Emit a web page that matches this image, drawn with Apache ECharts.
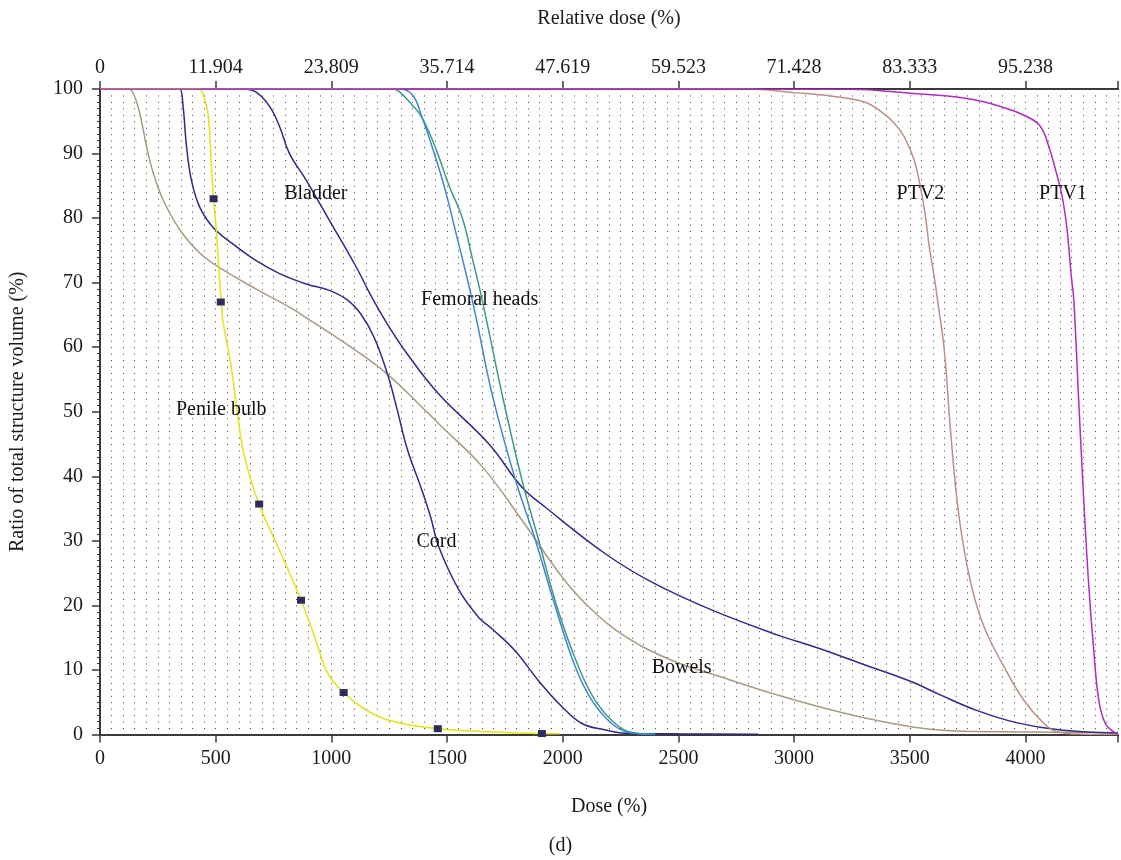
<!DOCTYPE html>
<html>
<head>
<meta charset="utf-8">
<script src="https://cdn.jsdelivr.net/npm/echarts@6/dist/echarts.min.js"></script>
<style>
  html, body { margin: 0; background: #fff; }
  #chart { width: 1121px; height: 860px; }
</style>
</head>
<body>
<div id="chart"></div>
<script>
// dose-volume curves, [dose, volume %]
const bowels = [[0,100],[100,100],[122,100],[144,99.3],[172,96.2],[201,91.1],[230,87],[273,82.8],[345,78.2],[431,74.6],[531,72],[675,69],[819,66.2],[869,65.1],[1085,60],[1243,55.8],[1415,49.9],[1465,48.1],[1652,41.5],[1824,33.2],[1997,24.4],[2112,19.8],[2270,15.2],[2471,11.5],[2686,8.9],[2930,6.1],[3218,3.3],[3505,1.2],[3677,0.6],[4000,0.4],[4400,0.3]]
const bladder = [[0,100],[580,100],[618,100],[675,99.5],[733,97.3],[776,94.2],[819,90],[891,85.9],[991,79.7],[1106,72.5],[1171,68],[1235,64],[1329,58.9],[1465,52.7],[1681,45],[1824,38.3],[1925,35.2],[2184,28],[2385,23.6],[2643,19.3],[2930,15.4],[3103,13.4],[3304,10.8],[3505,8.2],[3634,6.1],[3792,3.7],[3965,1.8],[4151,0.7],[4400,0.2]]
const cord = [[0,100],[320,100],[345,100],[359,97.3],[374,91.1],[395,85.9],[431,81.7],[488,78.6],[574,76],[675,73.4],[776,71.4],[891,69.8],[991,68.8],[1070,67.3],[1128,65.1],[1185,61.5],[1243,55.8],[1286,50.1],[1329,44.1],[1386,38.4],[1429,33.7],[1465,29],[1551,22.4],[1638,18.1],[1700,16.2],[1796,12.9],[1896,8.3],[1997,4.3],[2083,1.7],[2184,0.7],[2270,0.2],[2500,0.1],[2844,0.05]]
const femoralA = [[0,100],[1240,100],[1264,100],[1293,99.6],[1350,97.5],[1393,95.5],[1451,90.8],[1508,85.1],[1566,80],[1609,73.8],[1652,67.3],[1738,52.7],[1824,39.4],[1896,30.1],[1975,19.8],[2068,10.5],[2140,5.3],[2227,1.7],[2298,0.3],[2400,0]]
const femoralB = [[0,100],[1270,100],[1293,100],[1350,99.1],[1393,95.5],[1451,89.3],[1494,84.1],[1537,77.9],[1580,71.7],[1623,65],[1695,52.7],[1796,39.4],[1882,30.1],[1968,19.8],[2054,10.5],[2126,5.3],[2212,1.7],[2284,0.3],[2400,0]]
const ptv2 = [[0,100],[2800,100],[3013,99.4],[3157,98.9],[3304,98],[3376,96.5],[3433,94.7],[3476,92.6],[3519,89],[3548,84.4],[3570,79.7],[3584,75.6],[3608,70.4],[3620,67.3],[3649,59.6],[3677,46.7],[3713,33.7],[3764,23.4],[3821,16.7],[3907,10.5],[3993,5.3],[4080,1.7],[4137,0.4],[4250,0.05],[4400,0]]
const penileBulb = [[0,100],[400,100],[430,100],[445,99.2],[467,96.1],[481,88.3],[491,83],[503,78],[517,70.3],[524,67],[531,64.1],[567,57],[596,49.2],[625,43],[687,35.7],[783,28],[869,20.8],[927,15.2],[984,9.5],[1053,6.5],[1128,4.3],[1243,2.25],[1460,0.9],[1700,0.4],[1910,0.15],[1985,0.1]]
const penileMarks = [[491,83],[522,67],[688,35.7],[869,20.8],[1053,6.5],[1460,0.9],[1910,0.15]]
const ptv1 = [[0,100],[3232,99.95],[3519,99.3],[3735,98.6],[3893,97.3],[4008,95.7],[4065,94.2],[4101,91.1],[4130,87.5],[4159,83.3],[4180,78.2],[4197,71.4],[4209,67.3],[4230,51.8],[4252,36.3],[4273,23.4],[4295,13.1],[4317,5.3],[4345,1.7],[4381,0.4],[4400,0.1]]

// curve names written inside the plot
const labelNames = ['Bladder', 'Femoral heads', 'Penile bulb', 'Cord', 'Bowels', 'PTV2', 'PTV1']
const labelDose = [933, 1641, 524, 1454, 2514, 3546, 4162]
const labelVol = [83.8, 67.3, 50.3, 29.9, 10.3, 83.8, 83.8]

// top axis: relative dose for every 500 on the dose axis
const relLabels = ['0', '11.904', '23.809', '35.714', '47.619', '59.523', '71.428', '83.333', '95.238']

const FONT = '"Liberation Serif", "DejaVu Serif", serif'
const AXIS_COLOR = '#3a3a3a'

function curve(name, data, color) {
  return {
    type: 'line',
    name: name,
    data: data,
    showSymbol: false,
    smooth: 0.4,
    lineStyle: { color: color, width: 1.5 },
    itemStyle: { color: color },
    clip: true
  }
}

const chart = echarts.init(document.getElementById('chart'))
chart.setOption({
  animation: false,
  backgroundColor: '#fff',
  grid: { left: 100, right: 0, top: 89, bottom: 125.5 },
  xAxis: [
    {
      type: 'value',
      position: 'bottom',
      min: 0,
      max: 4400,
      interval: 500,
      name: 'Dose (%)',
      nameLocation: 'middle',
      nameGap: 62,
      nameTextStyle: { fontFamily: FONT, fontSize: 20, color: '#1a1a1a' },
      axisLine: { show: true, onZero: false, lineStyle: { color: AXIS_COLOR, width: 2 } },
      axisTick: { show: true, length: 8, lineStyle: { color: AXIS_COLOR, width: 1.5 } },
      axisLabel: {
        margin: 14,
        fontFamily: FONT,
        fontSize: 20,
        color: '#1a1a1a',
        formatter: function (v) { return v % 500 === 0 ? String(v) : '' }
      },
      splitLine: { show: false }
    },
    {
      type: 'value',
      position: 'top',
      min: 0,
      max: 4400,
      interval: 500,
      name: 'Relative dose (%)',
      nameLocation: 'middle',
      nameGap: 60,
      nameTextStyle: { fontFamily: FONT, fontSize: 20, color: '#1a1a1a' },
      axisLine: { show: true, onZero: false, lineStyle: { color: AXIS_COLOR, width: 2 } },
      axisTick: { show: true, length: 8, lineStyle: { color: AXIS_COLOR, width: 1.5 } },
      axisLabel: {
        margin: 11,
        fontFamily: FONT,
        fontSize: 20,
        color: '#1a1a1a',
        formatter: function (v) {
          const i = v / 500
          return Number.isInteger(i) && relLabels[i] !== undefined ? relLabels[i] : ''
        }
      },
      splitLine: { show: false }
    },
    {
      // only carries the dotted background grid
      type: 'value',
      position: 'bottom',
      min: 0,
      max: 4400,
      interval: 50,
      axisLine: { show: false },
      axisTick: { show: false },
      axisLabel: { show: false },
      splitLine: { show: true, lineStyle: { color: '#3c3c3c', width: 1, type: [1, 5.455] } }
    }
  ],
  yAxis: {
    type: 'value',
    min: 0,
    max: 100,
    interval: 10,
    name: 'Ratio of total structure volume (%)',
    nameLocation: 'middle',
    nameGap: 72,
    nameTextStyle: { fontFamily: FONT, fontSize: 20, color: '#1a1a1a' },
    axisLine: { show: true, lineStyle: { color: AXIS_COLOR, width: 2 } },
    axisTick: { show: true, length: 8, lineStyle: { color: AXIS_COLOR, width: 1.5 } },
    minorTick: { show: true, splitNumber: 10, length: 3, lineStyle: { color: AXIS_COLOR, width: 1 } },
    axisLabel: { margin: 17, fontFamily: FONT, fontSize: 20, color: '#1a1a1a' },
    splitLine: { show: false }
  },
  series: [
    curve('Bowels', bowels, '#aa9a82'),
    curve('Bladder', bladder, '#2e2a8a'),
    curve('Cord', cord, '#2e2a8a'),
    curve('Femoral heads A', femoralA, '#3a9a8c'),
    curve('Femoral heads B', femoralB, '#3f86d0'),
    curve('PTV2', ptv2, '#bd8f85'),
    curve('Penile bulb', penileBulb, '#e3e314'),
    {
      type: 'scatter',
      name: 'Penile bulb marks',
      data: penileMarks,
      symbol: 'rect',
      symbolSize: [8, 7],
      itemStyle: { color: '#2e2b5f', opacity: 1 },
      z: 4
    },
    curve('PTV1', ptv1, '#b02cc0'),
    {
      type: 'scatter',
      name: 'labels',
      data: labelNames.map(function (n, i) { return [labelDose[i], labelVol[i], n] }),
      symbolSize: 0,
      silent: true,
      z: 5,
      itemStyle: { opacity: 1 },
      label: {
        show: true,
        position: 'inside',
        fontFamily: FONT,
        fontSize: 20,
        color: '#111',
        opacity: 1,
        textBorderWidth: 0,
        formatter: function (p) { return p.value[2] }
      }
    }
  ],
  graphic: [
    {
      type: 'text',
      left: 'center',
      top: 836,
      style: { text: '(d)', font: '20px ' + FONT, fill: '#1a1a1a' }
    }
  ]
})
</script>
</body>
</html>
